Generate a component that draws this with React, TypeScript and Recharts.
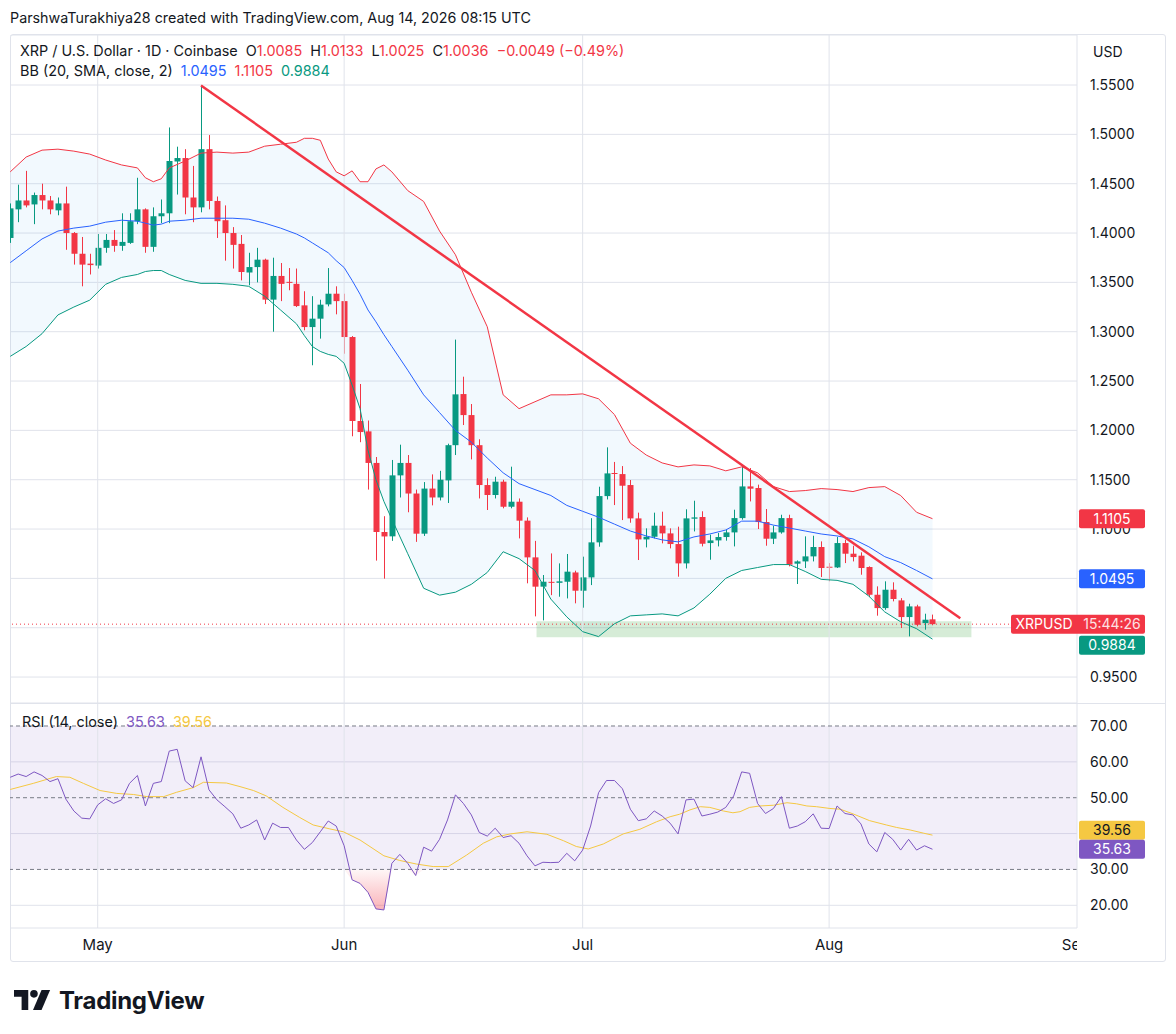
import React from 'react';
import {
  ComposedChart,
  Bar,
  Line,
  Area,
  XAxis,
  YAxis,
  CartesianGrid,
  ReferenceLine,
  ReferenceArea,
} from 'recharts';

// daily candles, day 0 = Apr 20
const opens = [
  1.395, 1.424, 1.433, 1.429, 1.4385, 1.433, 1.423, 1.43, 1.4, 1.379, 1.369, 1.367, 1.385, 1.393, 1.387, 1.39, 1.412, 1.424, 1.386, 1.417,
  1.42, 1.4725, 1.476, 1.436, 1.426, 1.485, 1.4325, 1.413, 1.4, 1.389, 1.36, 1.3655, 1.373, 1.3325, 1.3565, 1.3505, 1.3485, 1.3267, 1.3047, 1.3132,
  1.3277, 1.3385, 1.331, 1.2946, 1.2095, 1.199, 1.167, 1.097, 1.0926, 1.1544, 1.167, 1.136, 1.0953, 1.141, 1.132, 1.1493, 1.185, 1.2368, 1.2155, 1.185,
  1.1446, 1.1345, 1.148, 1.1226, 1.1277, 1.1085, 1.0713, 1.0416, 1.0465, 1.0455, 1.0466, 1.056, 1.0375, 1.051, 1.0865, 1.1334, 1.1568, 1.1557, 1.1446, 1.1108,
  1.0895, 1.0922, 1.1034, 1.0956, 1.0848, 1.0652, 1.1105, 1.1122, 1.0858, 1.0885, 1.0919, 1.0966, 1.1111, 1.1432, 1.1416, 1.1071, 1.0902, 1.0966, 1.1111, 1.0649,
  1.0672, 1.0723, 1.0818, 1.0618, 1.0611, 1.0858, 1.075, 1.073, 1.0615, 1.0334, 1.0199, 1.0385, 1.0277, 1.0108, 1.0216, 1.0047, 1.0085,
];
const highs = [
  1.43, 1.449, 1.463, 1.441, 1.45, 1.4375, 1.436, 1.447, 1.401, 1.396, 1.379, 1.399, 1.399, 1.403, 1.42, 1.42, 1.456, 1.425, 1.426, 1.434,
  1.507, 1.4875, 1.485, 1.468, 1.5495, 1.4993, 1.437, 1.428, 1.406, 1.398, 1.38, 1.385, 1.374, 1.375, 1.3696, 1.3645, 1.364, 1.341, 1.336, 1.3324,
  1.3645, 1.346, 1.3385, 1.2956, 1.247, 1.21, 1.173, 1.113, 1.17, 1.1855, 1.175, 1.14, 1.1476, 1.1554, 1.159, 1.1865, 1.292, 1.2544, 1.2267, 1.191,
  1.1514, 1.153, 1.15, 1.1632, 1.131, 1.1118, 1.088, 1.0534, 1.0753, 1.0652, 1.0747, 1.0578, 1.072, 1.111, 1.1429, 1.1828, 1.168, 1.1638, 1.1497, 1.1166,
  1.1007, 1.1166, 1.1176, 1.1007, 1.1024, 1.12, 1.1287, 1.118, 1.0943, 1.096, 1.0993, 1.1196, 1.1652, 1.1618, 1.145, 1.1203, 1.1034, 1.1145, 1.1145, 1.0682,
  1.0926, 1.0932, 1.0875, 1.0655, 1.0919, 1.0892, 1.0831, 1.0764, 1.0622, 1.0419, 1.047, 1.046, 1.03, 1.0243, 1.0233, 1.0142, 1.0133,
];
const lows = [
  1.39, 1.411, 1.426, 1.409, 1.424, 1.419, 1.418, 1.383, 1.368, 1.346, 1.358, 1.364, 1.38, 1.381, 1.382, 1.389, 1.409, 1.38, 1.381, 1.41,
  1.41, 1.439, 1.419, 1.411, 1.421, 1.424, 1.395, 1.372, 1.364, 1.352, 1.347, 1.35, 1.328, 1.3, 1.331, 1.342, 1.325, 1.3014, 1.266, 1.293,
  1.3257, 1.3176, 1.2777, 1.194, 1.188, 1.14, 1.068, 1.0497, 1.088, 1.132, 1.117, 1.087, 1.093, 1.124, 1.129, 1.1264, 1.175, 1.2054, 1.1706, 1.131,
  1.1193, 1.131, 1.121, 1.121, 1.0905, 1.045, 1.0115, 1.0074, 1.033, 1.0314, 1.0297, 1.0247, 1.0203, 1.0432, 1.0821, 1.13, 1.1243, 1.1091, 1.1064, 1.0686,
  1.0814, 1.0905, 1.0855, 1.0804, 1.0517, 1.06, 1.0976, 1.0824, 1.0689, 1.0824, 1.0882, 1.0824, 1.1095, 1.128, 1.1, 1.0831, 1.0848, 1.0953, 1.0622, 1.0443,
  1.0605, 1.0672, 1.0514, 1.047, 1.0605, 1.0655, 1.0672, 1.0537, 1.031, 1.0122, 1.0182, 1.0267, 0.9997, 0.9912, 1.0014, 0.998, 1.0025,
];
const closes = [
  1.425, 1.433, 1.428, 1.4385, 1.433, 1.424, 1.43, 1.4, 1.379, 1.368, 1.3675, 1.385, 1.393, 1.387, 1.391, 1.412, 1.424, 1.386, 1.417, 1.42,
  1.473, 1.476, 1.436, 1.426, 1.485, 1.4325, 1.412, 1.4, 1.388, 1.3605, 1.3655, 1.373, 1.3325, 1.3565, 1.3485, 1.3495, 1.326, 1.3047, 1.3132, 1.3274,
  1.3385, 1.331, 1.2946, 1.2095, 1.1983, 1.167, 1.097, 1.0925, 1.1544, 1.167, 1.136, 1.0953, 1.141, 1.132, 1.15, 1.185, 1.2365, 1.2155, 1.185, 1.1446,
  1.1345, 1.148, 1.1226, 1.1277, 1.1085, 1.0713, 1.0416, 1.0466, 1.0455, 1.047, 1.0568, 1.0375, 1.051, 1.0865, 1.1334, 1.1564, 1.156, 1.1439, 1.1108, 1.0895,
  1.0922, 1.1034, 1.0956, 1.0848, 1.0652, 1.1108, 1.1118, 1.0851, 1.0885, 1.0919, 1.0966, 1.1111, 1.1432, 1.1409, 1.1071, 1.0902, 1.0966, 1.1111, 1.0639, 1.0672,
  1.0723, 1.0818, 1.0605, 1.0612, 1.0858, 1.075, 1.0716, 1.0605, 1.0334, 1.0199, 1.0385, 1.0291, 1.0108, 1.0216, 1.003, 1.0081, 1.0036,
];

// Bollinger Bands (20, 2)
const bbDays = [
  0, 2, 4, 6, 8, 10, 12, 14, 16, 17, 18, 19, 20, 22, 24, 26, 28, 30, 32, 34, 36, 37, 38, 39, 40, 41, 42, 43, 44, 45,
  46, 47, 48, 50, 52, 54, 56, 58, 60, 62, 64, 66, 68, 70, 72, 74, 76, 78, 80, 82, 84, 86, 88, 90, 92, 94, 96, 98, 100, 102,
  104, 106, 108, 110, 112, 114, 116,
];
const bbUpper = [
  1.462, 1.477, 1.484, 1.485, 1.483, 1.48, 1.474, 1.469, 1.466, 1.456, 1.452, 1.455, 1.466, 1.473, 1.481, 1.482, 1.481, 1.482, 1.488, 1.49,
  1.492, 1.496, 1.496, 1.494, 1.475, 1.462, 1.458, 1.463, 1.452, 1.452, 1.465, 1.469, 1.462, 1.443, 1.432, 1.402, 1.378, 1.34, 1.305, 1.236,
  1.222, 1.229, 1.236, 1.236, 1.237, 1.232, 1.216, 1.187, 1.175, 1.167, 1.163, 1.165, 1.164, 1.159, 1.163, 1.157, 1.143, 1.138, 1.139, 1.141,
  1.14, 1.138, 1.142, 1.143, 1.134, 1.117, 1.1105,
];
const bbBasis = [
  1.37, 1.382, 1.394, 1.402, 1.405, 1.407, 1.411, 1.413, 1.412, 1.41, 1.408, 1.409, 1.412, 1.413, 1.415, 1.415, 1.415, 1.414, 1.41, 1.405,
  1.399, 1.395, 1.39, 1.385, 1.38, 1.372, 1.365, 1.352, 1.338, 1.322, 1.31, 1.297, 1.285, 1.261, 1.236, 1.218, 1.2, 1.188, 1.172, 1.157,
  1.146, 1.14, 1.134, 1.124, 1.118, 1.112, 1.105, 1.098, 1.093, 1.089, 1.087, 1.092, 1.095, 1.099, 1.108, 1.108, 1.104, 1.101, 1.098, 1.095,
  1.093, 1.09, 1.082, 1.072, 1.066, 1.058, 1.0495,
];
const bbLower = [
  1.275, 1.285, 1.298, 1.317, 1.325, 1.332, 1.348, 1.355, 1.358, 1.361, 1.362, 1.362, 1.358, 1.352, 1.349, 1.349, 1.348, 1.346, 1.336, 1.322,
  1.308, 1.296, 1.285, 1.28, 1.277, 1.275, 1.268, 1.246, 1.222, 1.18, 1.15, 1.128, 1.11, 1.075, 1.04, 1.033, 1.036, 1.044, 1.056, 1.077,
  1.07, 1.058, 1.029, 1.011, 0.996, 0.991, 1.004, 1.012, 1.013, 1.014, 1.012, 1.02, 1.034, 1.05, 1.058, 1.061, 1.064, 1.064, 1.057, 1.049,
  1.048, 1.044, 1.032, 1.016, 1.006, 0.999, 0.9884,
];

// RSI (14) per day and its moving average
const rsiValues = [
  55.7, 56.6, 55.9, 57.2, 56.2, 54.5, 55.3, 49.6, 46.3, 44.3, 44.1, 48.0, 49.7, 48.4, 49.4, 54.0, 56.2, 47.7, 54.0, 54.5,
  63.0, 63.5, 54.7, 52.8, 61.4, 52.2, 49.4, 47.5, 45.5, 41.5, 42.4, 43.8, 38.2, 42.9, 41.7, 41.7, 38.2, 35.6, 37.5, 40.5,
  43.5, 42.1, 36.6, 27.1, 26.1, 23.6, 19.0, 18.7, 31.7, 34.2, 31.7, 28.3, 36.2, 35.1, 38.4, 43.8, 50.8, 48.4, 45.2, 40.3,
  39.3, 41.5, 38.9, 39.4, 37.3, 33.8, 31.0, 32.0, 31.9, 32.0, 34.5, 32.4, 35.4, 42.1, 51.4, 54.8, 54.8, 52.5, 46.8, 43.6,
  44.1, 46.3, 44.9, 42.9, 39.9, 49.4, 49.6, 44.9, 45.4, 46.0, 47.3, 50.5, 57.2, 56.8, 48.4, 45.6, 47.0, 50.3, 41.5, 42.1,
  43.3, 45.5, 41.5, 41.4, 47.7, 45.6, 45.2, 42.7, 37.1, 34.9, 40.3, 38.4, 35.4, 38.4, 35.4, 36.6, 35.63,
];
const maDays = [
  0, 2.9, 5.8, 7.5, 9.2, 11.3, 13.4, 15.5, 17.2, 19.3, 20.9, 23, 24.3, 27.2, 28.9, 30.6, 32.2, 34.3, 36.4, 38.1,
  40.2, 41.9, 44, 47, 49, 51.1, 53.2, 55.1, 57.4, 59.5, 61.2, 62.9, 65, 67.5, 69.6, 71.2, 72.7, 74.6, 77.1, 79.2,
  81.3, 83, 84.2, 85.5, 86.8, 88, 89.7, 90.9, 91.8, 93, 94.3, 96, 97.7, 98.9, 100.2, 101.4, 103.1, 104.4, 106, 108.1,
  110.2, 111.5, 113.2, 114.9, 116,
];
const maValues = [
  52.3, 54.0, 55.9, 55.7, 54.0, 52.0, 51.2, 50.9, 50.3, 50.3, 51.5, 52.8, 54.3, 54.1, 53.1, 52.0, 50.5, 47.3, 44.5, 42.4,
  41.3, 40.5, 38.2, 33.8, 32.5, 31.5, 30.8, 30.8, 34.0, 37.3, 39.1, 39.9, 40.5, 39.8, 38.0, 36.4, 35.7, 37.1, 39.9, 41.2,
  43.3, 44.7, 45.4, 46.6, 47.5, 47.3, 46.3, 45.8, 46.1, 47.3, 47.7, 47.9, 48.6, 48.3, 47.7, 47.5, 47.0, 46.8, 45.5, 43.6,
  42.4, 41.7, 41.0, 40.1, 39.56,
];

const monthTicks = [11, 42, 72, 103, 134];
const monthLabels = ['May', 'Jun', 'Jul', 'Aug', 'Sep'];
const priceTicks = [0.95, 1.0, 1.05, 1.1, 1.15, 1.2, 1.25, 1.3, 1.35, 1.4, 1.45, 1.5, 1.55];
const rsiTicks = [20, 30, 40, 50, 60, 70];
// axis values whose text sits fully under a value tag
const coveredPrice = [1.0, 1.05];
const coveredRsi = [40];

const candleData = opens.map((o, i) => ({
  day: i,
  open: o,
  high: highs[i],
  low: lows[i],
  close: closes[i],
  range: [lows[i], highs[i]],
}));
const bbRows = bbDays.map((d, i) => ({ day: d, upper: bbUpper[i], basis: bbBasis[i], lower: bbLower[i] }));
const rsiRows = rsiValues.map((v, i) => ({ day: i, rsi: v }));
const maRows = maDays.map((d, i) => ({ day: d, ma: maValues[i] }));

const FONT = 'Inter, "Noto Sans", sans-serif';
const TEXT = '#131722';
const RED = '#f23645';
const GREEN = '#089981';
const BLUE = '#2962ff';
const PURPLE = '#7e57c2';
const YELLOW = '#f5c842';
const GRID = '#e0e3eb';
const X_DOMAIN = [-0.03, 134.18];
const PRICE_DOMAIN = [0.9237, 1.6007];
const RSI_DOMAIN = [13.67, 76.41];
const NO_MARGIN = { top: 0, right: 0, bottom: 0, left: 0 };

const Candle = (props: any) => {
  const { x, y, width, height, payload } = props;
  const { open, close, high, low } = payload;
  const color = close >= open ? GREEN : RED;
  const span = high - low || 1;
  const toY = (v: number) => y + ((high - v) / span) * height;
  const top = toY(Math.max(open, close));
  const bottom = toY(Math.min(open, close));
  const cx = Math.round(x + width / 2) + 0.5;
  return (
    <g>
      <line x1={cx} x2={cx} y1={y} y2={y + height} stroke={color} strokeWidth={1} />
      <rect x={cx - 3} y={top} width={6} height={Math.max(bottom - top, 1)} fill={color} />
    </g>
  );
};

const axisTick = (covered: number[], digits: number) => (props: any) => {
  const { x, y, payload } = props;
  if (covered.some((c) => Math.abs(c - payload.value) < 1e-9)) return null;
  return (
    <text x={x} y={y} dy="0.355em" textAnchor="start" fill={TEXT} fontSize={14}>
      {payload.value.toFixed(digits)}
    </text>
  );
};

const priceTag = (text: string, bg: string, fg: string, shift = 0) => (p: any) => {
  const vb = p.viewBox;
  const x = vb.x + vb.width + 2;
  const y = vb.y + shift;
  return (
    <g>
      <rect x={x} y={y - 9.5} width={66} height={19} rx={2} fill={bg} />
      <text x={x + 33} y={y} dy="0.36em" textAnchor="middle" fill={fg} fontSize={14}>
        {text}
      </text>
    </g>
  );
};

const lastTag = (p: any) => {
  const vb = p.viewBox;
  const x = vb.x + vb.width - 66;
  const y = vb.y;
  return (
    <g>
      <rect x={x} y={y - 9.5} width={134} height={19} rx={2} fill={RED} />
      <text x={x + 33} y={y} dy="0.36em" textAnchor="middle" fill="#fff" fontSize={14}>
        XRPUSD
      </text>
      <text x={x + 101} y={y} dy="0.36em" textAnchor="middle" fill="#fde2e4" fontSize={14}>
        15:44:26
      </text>
    </g>
  );
};

const MonthTick = (props: any) => {
  const { x, y, payload } = props;
  const idx = monthTicks.indexOf(payload.value);
  return (
    <text x={x} y={y} dy="0.71em" textAnchor="middle" fill={TEXT} fontSize={15} clipPath="url(#timeClip)">
      {monthLabels[idx]}
    </text>
  );
};

export default function App() {
  return (
    <div style={{ position: 'absolute', left: 0, top: 0, width: 1176, height: 1034, background: '#fff', fontFamily: FONT, color: TEXT }}>
      <div style={{ position: 'absolute', left: 10, top: 9, fontSize: 14.3, whiteSpace: 'pre' }}>
        ParshwaTurakhiya28 created with TradingView.com, Aug 14, 2026 08:15 UTC
      </div>

      <div style={{ position: 'absolute', left: 10, top: 34, width: 1154, height: 926, border: `1px solid ${GRID}`, borderRadius: 3 }} />
      <div style={{ position: 'absolute', left: 10, top: 703, width: 1156, height: 1, background: GRID }} />

      {/* price pane */}
      <div style={{ position: 'absolute', left: 10, top: 35 }}>
        <ComposedChart width={1156} height={668} data={candleData} margin={NO_MARGIN}>
          <CartesianGrid stroke={GRID} vertical={false} />
          <XAxis type="number" dataKey="day" domain={X_DOMAIN} allowDataOverflow hide />
          <YAxis
            orientation="right"
            width={89}
            domain={PRICE_DOMAIN}
            allowDataOverflow
            ticks={priceTicks}
            tick={axisTick(coveredPrice, 4)}
            tickLine={false}
            tickSize={0}
            tickMargin={13}
            axisLine={{ stroke: GRID }}
          />
          {monthTicks.slice(0, 4).map((m) => (
            <ReferenceLine key={m} x={m} stroke={GRID} />
          ))}
          <Area
            data={bbRows}
            dataKey={(r: any) => [r.lower, r.upper]}
            fill="#2196f3"
            fillOpacity={0.06}
            stroke="none"
            isAnimationActive={false}
          />
          <Line data={bbRows} dataKey="upper" stroke={RED} strokeWidth={1} dot={false} isAnimationActive={false} />
          <Line data={bbRows} dataKey="basis" stroke={BLUE} strokeWidth={1} dot={false} isAnimationActive={false} />
          <Line data={bbRows} dataKey="lower" stroke={GREEN} strokeWidth={1} dot={false} isAnimationActive={false} />
          <ReferenceArea x1={66.2} x2={120.9} y1={0.9903} y2={1.0065} fill="#4caf50" fillOpacity={0.23} stroke="none" />
          <Bar dataKey="range" barSize={6} shape={<Candle />} isAnimationActive={false} />
          <ReferenceLine
            segment={[
              { x: 24, y: 1.5495 },
              { x: 119.5, y: 1.0095 },
            ]}
            stroke={RED}
            strokeWidth={2.5}
          />
          <ReferenceLine y={1.0036} stroke={RED} strokeDasharray="1 3" />
        </ComposedChart>
      </div>

      {/* price tags drawn above the axis text */}
      <div style={{ position: 'absolute', left: 10, top: 35 }}>
        <ComposedChart width={1156} height={668} data={candleData} margin={NO_MARGIN}>
          <XAxis type="number" dataKey="day" domain={X_DOMAIN} allowDataOverflow hide />
          <YAxis orientation="right" width={89} domain={PRICE_DOMAIN} allowDataOverflow tick={false} tickLine={false} axisLine={false} />
          <ReferenceLine y={1.0036} stroke="none" label={lastTag} />
          <ReferenceLine y={1.1105} stroke="none" label={priceTag('1.1105', RED, '#fff')} />
          <ReferenceLine y={1.0495} stroke="none" label={priceTag('1.0495', BLUE, '#fff')} />
          <ReferenceLine y={0.9884} stroke="none" label={priceTag('0.9884', GREEN, '#fff', 6)} />
        </ComposedChart>
      </div>

      {/* RSI pane */}
      <div style={{ position: 'absolute', left: 10, top: 703 }}>
        <ComposedChart width={1156} height={259} data={rsiRows} margin={NO_MARGIN}>
          <defs>
            <linearGradient id="oversold" x1="0" y1="0" x2="0" y2="1">
              <stop offset="0%" stopColor={RED} stopOpacity={0.04} />
              <stop offset="100%" stopColor={RED} stopOpacity={0.38} />
            </linearGradient>
            <clipPath id="timeClip">
              <rect x={0} y={0} width={1067} height={259} />
            </clipPath>
          </defs>
          <CartesianGrid stroke={GRID} vertical={false} horizontalValues={[20, 40, 60]} />
          <XAxis
            type="number"
            dataKey="day"
            domain={X_DOMAIN}
            allowDataOverflow
            ticks={monthTicks}
            height={34}
            tick={<MonthTick />}
            tickLine={false}
            tickSize={0}
            tickMargin={11}
            axisLine={{ stroke: GRID }}
          />
          <YAxis
            orientation="right"
            width={89}
            domain={RSI_DOMAIN}
            allowDataOverflow
            ticks={rsiTicks}
            tick={axisTick(coveredRsi, 2)}
            tickLine={false}
            tickSize={0}
            tickMargin={13}
            axisLine={{ stroke: GRID }}
          />
          <ReferenceArea y1={30} y2={70} fill={PURPLE} fillOpacity={0.1} stroke="none" />
          {monthTicks.slice(0, 4).map((m) => (
            <ReferenceLine key={m} x={m} stroke={GRID} />
          ))}
          <ReferenceLine y={70} stroke="#787b86" strokeDasharray="4 3" />
          <ReferenceLine y={50} stroke="#787b86" strokeDasharray="4 3" />
          <ReferenceLine y={30} stroke="#787b86" strokeDasharray="4 3" />
          <Area
            dataKey={(r: any) => [Math.min(r.rsi, 30), 30]}
            fill="url(#oversold)"
            fillOpacity={1}
            stroke="none"
            isAnimationActive={false}
          />
          <Line data={maRows} dataKey="ma" stroke={YELLOW} strokeWidth={1} dot={false} isAnimationActive={false} />
          <Line dataKey="rsi" stroke={PURPLE} strokeWidth={1} dot={false} isAnimationActive={false} />
        </ComposedChart>
      </div>

      <div style={{ position: 'absolute', left: 10, top: 703 }}>
        <ComposedChart width={1156} height={259} data={rsiRows} margin={NO_MARGIN}>
          <XAxis type="number" dataKey="day" domain={X_DOMAIN} allowDataOverflow height={34} tick={false} tickLine={false} axisLine={false} />
          <YAxis orientation="right" width={89} domain={RSI_DOMAIN} allowDataOverflow tick={false} tickLine={false} axisLine={false} />
          <ReferenceLine y={39.56} stroke="none" label={priceTag('39.56', YELLOW, TEXT, -5)} />
          <ReferenceLine y={35.63} stroke="none" label={priceTag('35.63', PURPLE, '#fff')} />
        </ComposedChart>
      </div>

      <div style={{ position: 'absolute', left: 20, top: 42, fontSize: 14.4, whiteSpace: 'pre' }}>
        {'XRP / U.S. Dollar · 1D · Coinbase  O'}
        <span style={{ color: RED }}>1.0085</span>
        {'  H'}
        <span style={{ color: RED }}>1.0133</span>
        {'  L'}
        <span style={{ color: RED }}>1.0025</span>
        {'  C'}
        <span style={{ color: RED }}>1.0036</span>
        {'  '}
        <span style={{ color: RED }}>−0.0049 (−0.49%)</span>
      </div>
      <div style={{ position: 'absolute', left: 20, top: 62, fontSize: 14.4, whiteSpace: 'pre' }}>
        {'BB (20, SMA, close, 2)  '}
        <span style={{ color: BLUE }}>1.0495</span>
        {'  '}
        <span style={{ color: RED }}>1.1105</span>
        {'  '}
        <span style={{ color: GREEN }}>0.9884</span>
      </div>
      <div style={{ position: 'absolute', left: 22, top: 713, fontSize: 14.4, whiteSpace: 'pre' }}>
        {'RSI (14, close)  '}
        <span style={{ color: PURPLE }}>35.63</span>
        {'  '}
        <span style={{ color: YELLOW }}>39.56</span>
      </div>
      <div style={{ position: 'absolute', left: 1093, top: 43, fontSize: 14 }}>USD</div>

      <div style={{ position: 'absolute', left: 14, top: 986, display: 'flex', alignItems: 'center' }}>
        <svg width={38} height={21} viewBox="0 0 40 22">
          <path d="M0 0 H15 V21 H8 V7 H0 Z" fill={TEXT} />
          <circle cx={21} cy={4} r={4} fill={TEXT} />
          <path d="M29 0 H38 L29 21 H20 Z" fill={TEXT} />
        </svg>
        <span style={{ marginLeft: 7, fontSize: 24, fontWeight: 700, letterSpacing: -0.3 }}>TradingView</span>
      </div>
    </div>
  );
}
